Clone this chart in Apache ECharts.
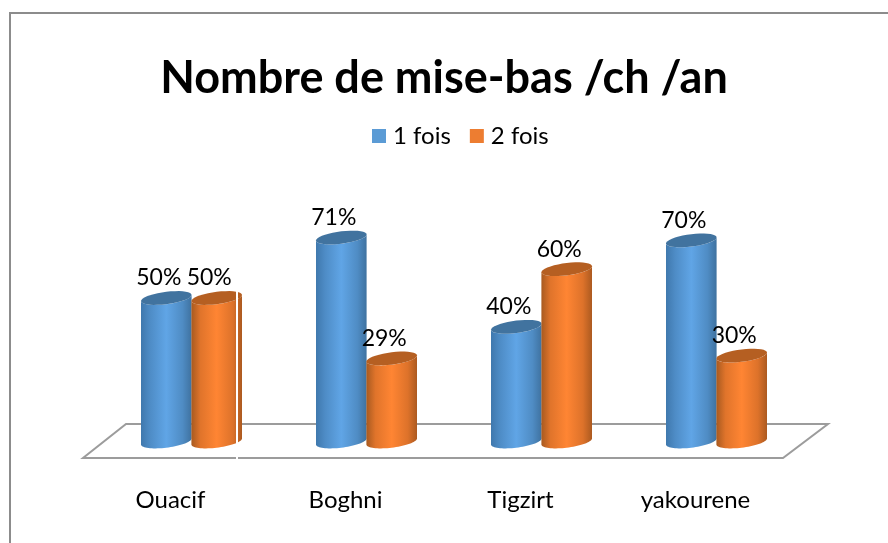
<!DOCTYPE html>
<html><head><meta charset="utf-8">
<style>html,body{margin:0;padding:0;background:#fff}#c{width:888px;height:543px}</style>
<script src="https://cdn.jsdelivr.net/npm/echarts@6/dist/echarts.min.js"></script>
</head><body><div id="c"></div>
<script>
var titleText = 'Nombre de mise-bas /ch /an';
var categories = ['Ouacif', 'Boghni', 'Tigzirt', 'yakourene'];
var seriesNames = ['1 fois', '2 fois'];
var once = [50, 71, 40, 70];
var twice = [50, 29, 60, 30];

var FONT = 'Lato';
var DX = 21, DY = -16, RX = 25.3, RY = 6.2, SHEAR = -0.12;
function arc(cx, cy, a0, a1) {
  var pts = [];
  for (var i = 0; i <= 36; i++) {
    var t = a0 + (a1 - a0) * i / 36;
    var ex = RX * Math.cos(t);
    pts.push([cx + ex, cy + RY * Math.sin(t) + SHEAR * ex]);
  }
  return pts;
}
function cylinder(side, stops, cap) {
  return function (params, api) {
    var value = api.value(1);
    var top = api.coord([api.value(0), value]);
    var base = api.coord([api.value(0), 0]);
    var cx = top[0] + DX + side * 25.2;
    var yt = top[1] + DY, yb = base[1] + DY - 0.5;
    var body = arc(cx, yt, Math.PI, 0).concat(arc(cx, yb, 0, Math.PI));
    return {
      type: 'group',
      children: [
        { type: 'polygon', shape: { points: body },
          style: { fill: new echarts.graphic.LinearGradient(0, 0, 1, 0, stops) } },
        { type: 'polygon', shape: { points: arc(cx, yt, 0, Math.PI * 2) }, style: { fill: cap } },
        { type: 'text', x: cx - 7.5, y: yt - 20, z2: 10,
          style: { text: value + '%', fontFamily: FONT, fontSize: 23, fill: '#000',
            align: 'center', verticalAlign: 'middle' } }
      ]
    };
  };
}
function floor(params) {
  var c = params.coordSys;
  var l = c.x, r = c.x + c.width, b = c.y + c.height;
  return {
    type: 'polygon',
    shape: { points: [[l, b], [r, b], [r + 45, b - 34], [l + 43, b - 34]] },
    style: { fill: 'none', stroke: '#9c9c9c', lineWidth: 2 }
  };
}
var blueStops = [
  { offset: 0, color: '#3f78ad' }, { offset: 0.18, color: '#4e8cc6' }, { offset: 0.5, color: '#60a5e6' },
  { offset: 0.82, color: '#4f8cc4' }, { offset: 1, color: '#3f72a0' }];
var orangeStops = [
  { offset: 0, color: '#a85a20' }, { offset: 0.18, color: '#e0742b' }, { offset: 0.5, color: '#ff8533' },
  { offset: 0.82, color: '#dd722a' }, { offset: 1, color: '#ac5a20' }];
var chart = echarts.init(document.getElementById('c'), null, { renderer: 'canvas' });
chart.setOption({
  animation: false,
  backgroundColor: '#fff',
  title: { text: titleText, left: 'center', top: 51,
    textStyle: { fontFamily: FONT, fontWeight: 'bold', fontSize: 45, color: '#000' } },
  legend: { top: 119, left: 367, itemWidth: 14, itemHeight: 14, itemGap: 19, icon: 'rect',
    data: seriesNames,
    textStyle: { fontFamily: FONT, fontSize: 24, color: '#000', padding: [0, 0, 2, 2] } },
  grid: { left: 83, width: 700, top: 170, height: 288 },
  xAxis: { type: 'category', data: categories,
    axisLine: { show: false }, axisTick: { show: false },
    axisLabel: { margin: 30, fontFamily: FONT, fontSize: 24, color: '#000', interval: 0 } },
  yAxis: { type: 'value', min: 0, max: 100, show: false },
  series: [
    { type: 'custom', silent: true, z: 1, renderItem: floor, data: [[0, 0]], encode: { x: 0, y: 1 } },
    { type: 'custom', name: seriesNames[0], z: 2, itemStyle: { color: '#5b9bd5' },
      renderItem: cylinder(-1, blueStops, '#41739f'),
      encode: { x: 0, y: 1 }, data: once.map(function (v, i) { return [i, v]; }) },
    { type: 'custom', name: seriesNames[1], z: 3, itemStyle: { color: '#ed7d31' },
      renderItem: cylinder(1, orangeStops, '#b55f22'),
      encode: { x: 0, y: 1 }, data: twice.map(function (v, i) { return [i, v]; }) }
  ],
  graphic: [
    { type: 'polyline', z: 100, silent: true, shape: { points: [[888, 13], [10, 13], [10, 543]] },
      style: { fill: 'none', stroke: '#8c8c8c', lineWidth: 2 } },
    { type: 'line', z: 100, silent: true, shape: { x1: 237, y1: 290, x2: 237, y2: 461 },
      style: { stroke: '#fff', lineWidth: 2 } }
  ]
});
</script></body></html>
